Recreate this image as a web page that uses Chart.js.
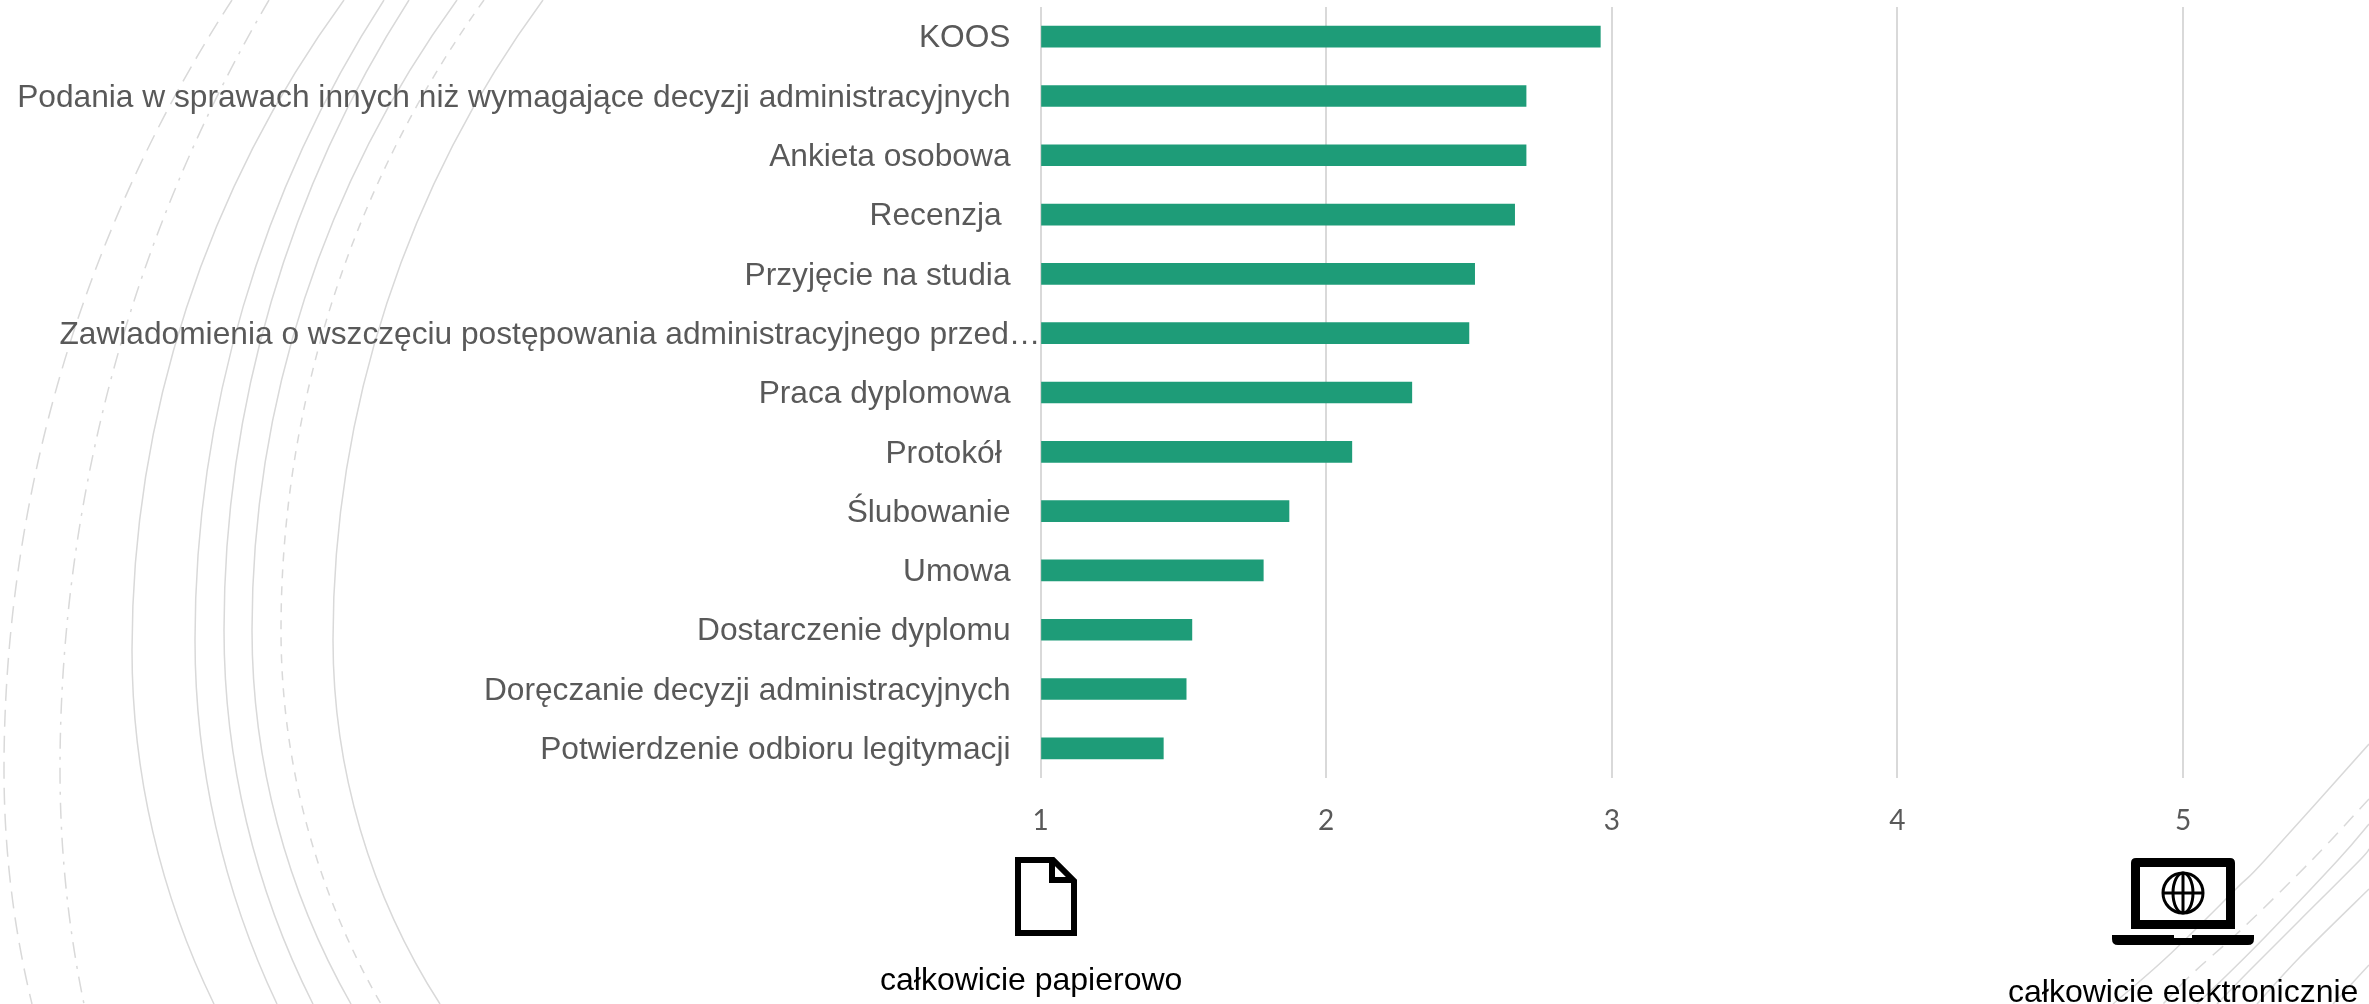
<!DOCTYPE html>
<html lang="pl">
<head>
<meta charset="utf-8">
<title>Wykres</title>
<script src="https://cdn.jsdelivr.net/npm/chart.js@4"></script>
<style>
	html, body { margin: 0; padding: 0; background: #fff; }
	#box { position: relative; width: 2369px; height: 1004px; overflow: hidden; }
	#grafico { position: absolute; left: 0; top: 0; }
	#ikony { position: absolute; left: 0; top: 0; }
	.podpis { position: absolute; font-family: "Liberation Sans", sans-serif; font-size: 32px; color: #000; white-space: nowrap; line-height: 36px; }
</style>
</head>
<body>
<div id="box">
	<canvas id="grafico" width="2369" height="1004"></canvas>
	<svg id="ikony" width="2369" height="1004">
		<path d="M1018 860H1053L1074 881V933H1018Z M1052 860V880H1074" fill="none" stroke="#000" stroke-width="6"/>
		<path fill-rule="evenodd" d="M2136 858H2230Q2235 858 2235 863V929H2131V863Q2131 858 2136 858Z M2140 867V920H2226V867Z"/>
		<path d="M2112 935H2174V938H2192V935H2254V939Q2254 945 2248 945H2118Q2112 945 2112 939Z"/>
		<g fill="none" stroke="#000" stroke-width="3">
			<circle cx="2183" cy="893" r="20"/>
			<ellipse cx="2183" cy="893" rx="10" ry="20"/>
			<path d="M2183 873V913M2163 893H2203"/>
		</g>
	</svg>
	<div class="podpis" style="left:880px;top:961px">całkowicie papierowo</div>
	<div class="podpis" style="left:2008px;top:973px">całkowicie elektronicznie</div>
</div>
<script>
	var kategorie = [
		"KOOS",
		"Podania w sprawach innych niż wymagające decyzji administracyjnych",
		"Ankieta osobowa",
		"Recenzja ",
		"Przyjęcie na studia",
		"Zawiadomienia o wszczęciu postępowania administracyjnego przed…",
		"Praca dyplomowa",
		"Protokół ",
		"Ślubowanie",
		"Umowa",
		"Dostarczenie dyplomu",
		"Doręczanie decyzji administracyjnych",
		"Potwierdzenie odbioru legitymacji"
	];
	var wartosci = [2.96, 2.70, 2.70, 2.66, 2.52, 2.50, 2.30, 2.09, 1.87, 1.78, 1.53, 1.51, 1.43];
	var podzialka = [1, 2, 3, 4, 5];

	// ten jeden podpis jest w oryginale dosuniety do osi
	var dlugiPodpis = 5;

	// linie w tle (dekoracja)
	// lewe: x u gory, x i y najbardziej na lewo, x u dolu, kreska
	var lukiLewe = [
		[232, 4, 770, 32, [17, 9]],
		[269, 60, 770, 84, [16, 8, 3, 8]],
		[344, 132, 650, 214, []],
		[384, 195, 640, 277, []],
		[409, 224, 630, 313, []],
		[457, 252, 630, 351, []],
		[484, 281, 630, 381, [9, 8]],
		[543, 333, 640, 440, []]
	];
	var lukiPrawe = [
		[[[2369, 744], [2265, 860], [2237, 888], [2167, 957], [2113, 1004]], []],
		[[[2369, 799], [2312, 860], [2243, 928], [2193, 973], [2163, 1004]], [14, 9]],
		[[[2369, 824], [2338, 860], [2267, 935], [2227, 975], [2197, 1004]], []],
		[[[2369, 849], [2360, 860], [2300, 920], [2250, 970], [2217, 1004]], []],
		[[[2369, 889], [2300, 957], [2257, 1004]], []],
		[[[2369, 965], [2333, 1004]], []]
	];

	// dwa luki stykajace sie w najbardziej wysunietym punkcie
	function rysujLuk(ctx, l){
		var wysokosc = ctx.canvas.height;
		var dxG = l[0] - l[1], dyG = l[2];
		var dxD = l[3] - l[1], dyD = wysokosc - l[2];
		var rG = (dxG * dxG + dyG * dyG) / (2 * dxG);
		var rD = (dxD * dxD + dyD * dyD) / (2 * dxD);
		ctx.setLineDash(l[4]);
		ctx.beginPath();
		ctx.arc(l[1] + rG, l[2], rG, Math.atan2(-dyG, dxG - rG), -Math.PI, true);
		ctx.arc(l[1] + rD, l[2], rD, Math.PI, Math.atan2(dyD, dxD - rD), true);
		ctx.stroke();
	}

	function rysujLinie(ctx, p, kreska){
		ctx.setLineDash(kreska);
		ctx.beginPath();
		ctx.moveTo(p[0][0], p[0][1]);
		for (var i = 0; i < p.length - 1; i++) {
			var p0 = p[Math.max(i - 1, 0)], p1 = p[i], p2 = p[i + 1], p3 = p[Math.min(i + 2, p.length - 1)];
			ctx.bezierCurveTo(
				p1[0] + (p2[0] - p0[0]) / 6, p1[1] + (p2[1] - p0[1]) / 6,
				p2[0] - (p3[0] - p1[0]) / 6, p2[1] - (p3[1] - p1[1]) / 6,
				p2[0], p2[1]
			);
		}
		ctx.stroke();
	}

	var tlo = {
		id: 'tlo',
		beforeDraw: function(chart){
			var ctx = chart.ctx;
			ctx.save();
			ctx.strokeStyle = '#d9d9d9';
			ctx.lineWidth = 1.5;
			lukiLewe.forEach(function(l){ rysujLuk(ctx, l); });
			lukiPrawe.forEach(function(l){ rysujLinie(ctx, l[0], l[1]); });
			ctx.restore();
		},
		// podpisy kategorii: tekst w oryginale jest nizej niz srodek linii Chart.js
		afterDraw: function(chart){
			var ctx = chart.ctx;
			var y = chart.scales.y;
			ctx.save();
			ctx.font = '31.7px "Liberation Sans"';
			ctx.fillStyle = '#595959';
			ctx.textAlign = 'right';
			ctx.textBaseline = 'middle';
			kategorie.forEach(function(nazwa, i){
				var prawa = i === dlugiPodpis ? y.right : y.right - 30;
				ctx.fillText(nazwa, prawa, y.getPixelForValue(i) + 2);
			});
			ctx.restore();
		}
	};

	var data = {
		labels: kategorie,
		datasets: [
			{
				data: wartosci,
				backgroundColor: "#1E9C78",
				barThickness: 21,
				base: 1
			}
		]
	};

	var options = {
		indexAxis: 'y',
		responsive: false,
		animation: false,
		layout: { padding: { left: 0, right: 186, top: 7, bottom: 0 } },
		plugins: { legend: { display: false }, title: { display: false }, tooltip: { enabled: false } },
		scales: {
			x: {
				min: 1,
				max: 5,
				afterBuildTicks: function(scale){
					scale.ticks = podzialka.map(function(v){ return { value: v }; });
				},
				afterFit: function(scale){ scale.height = 226; },
				grid: { color: '#d9d9d9', lineWidth: 2, drawTicks: false },
				border: { display: false },
				ticks: { color: '#595959', font: { family: 'Lato', size: 28 }, padding: 26, maxRotation: 0 }
			},
			y: {
				afterFit: function(scale){
					scale.width = 1040.5;
					scale.paddingTop = 0;
					scale.paddingBottom = 0;
				},
				grid: { display: false, drawTicks: false },
				border: { display: false },
				ticks: { display: false }
			}
		}
	};

	var ctx = document.getElementById("grafico").getContext("2d");
	new Chart(ctx, { type: 'bar', data: data, options: options, plugins: [tlo] });
</script>
</body>
</html>
